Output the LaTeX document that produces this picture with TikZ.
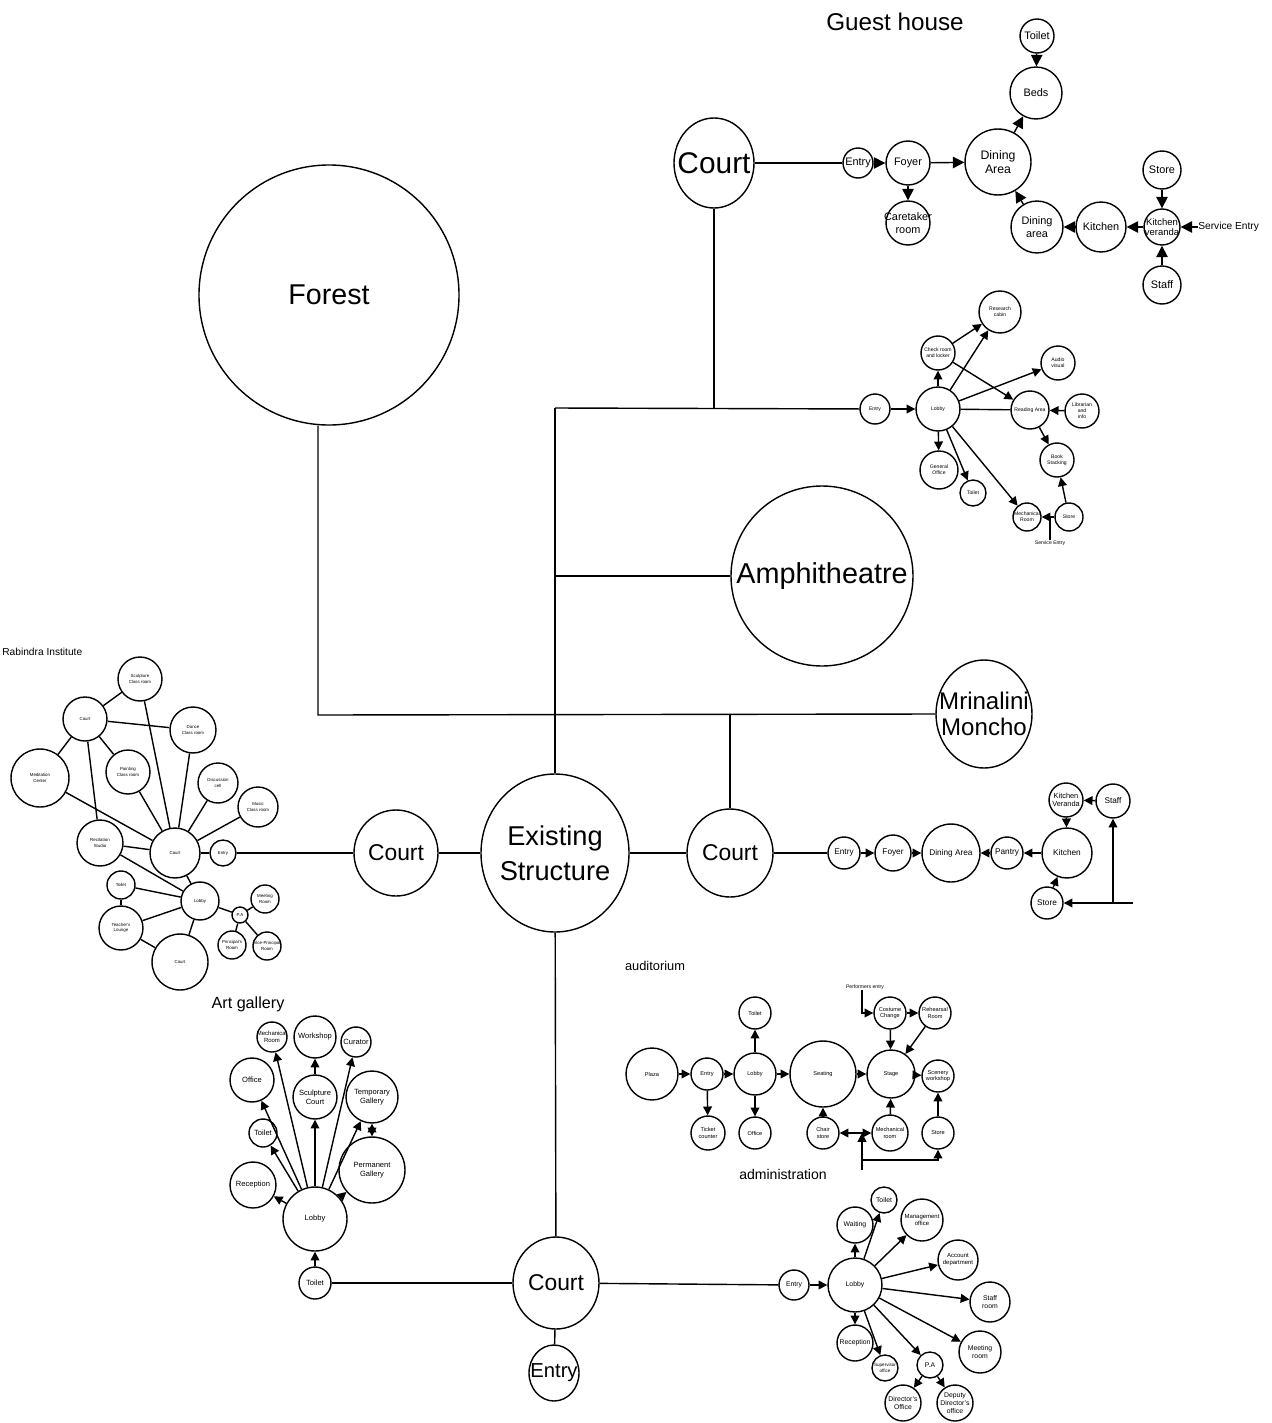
\documentclass[tikz,border=0pt]{standalone}
\usepackage{fontspec}
\setmainfont{Liberation Sans}
\usetikzlibrary{arrows.meta,shapes.geometric}

\begin{document}
\begin{tikzpicture}[x=0.02cm,y=-0.02cm,
  every node/.style={align=center,inner sep=0pt},
  % the outline keeps its given size even where the text runs past it
  rad/.style={ellipse,draw,line width=0.8pt,inner sep=-60pt,minimum width=#1*0.04cm,minimum height=#1*0.04cm},
  ell/.style 2 args={ellipse,draw,line width=0.8pt,inner sep=-60pt,minimum width=#1*0.02cm,minimum height=#2*0.02cm},
  link/.style={line width=0.8pt},
  arr/.style={line width=0.8pt,-{Triangle[length=5pt,width=5pt]}},
  barr/.style={line width=0.8pt,-{Triangle[length=6.5pt,width=6.5pt]}},
  darr/.style={line width=0.8pt,{Triangle[length=5pt,width=5pt]}-{Triangle[length=5pt,width=5pt]}},
  gf/.style={font=\fontsize{6.2}{7}\selectfont},
  lf/.style={font=\fontsize{2.9}{3.4}\selectfont},
  rf/.style={font=\fontsize{2.5}{3}\selectfont},
  af/.style={font=\fontsize{4.3}{5}\selectfont},
  uf/.style={font=\fontsize{3.2}{3.8}\selectfont},
  df/.style={font=\fontsize{3.9}{4.5}\selectfont},
  kf/.style={font=\fontsize{4.7}{5.4}\selectfont}
]
\useasboundingbox (0,0) rectangle (1271,1423);
\fill[white] (0,0) rectangle (1271,1423);

% ---------- main site elements ----------
\node[ell={260}{260},font=\fontsize{16.3}{18}\selectfont] (forest) at (329,295) {Forest};
\node[ell={80}{90},font=\fontsize{17}{19}\selectfont] (courtT) at (714,163) {Court};
\node[ell={182}{180},font=\fontsize{16.4}{18}\selectfont] (amph) at (822,576) {Amphitheatre};
\node[ell={96}{108},font=\fontsize{13.7}{14.7}\selectfont] (mrin) at (984,714) {Mrinalini\\Moncho};
\node[ell={148}{158},font=\fontsize{15.5}{20}\selectfont] (exist) at (555,853) {Existing\\Structure};
\node[ell={84}{86},font=\fontsize{13}{14}\selectfont] (courtL) at (396,853) {Court};
\node[ell={86}{88},font=\fontsize{13}{14}\selectfont] (courtR) at (730,853) {Court};
\node[ell={86}{92},font=\fontsize{13}{14}\selectfont] (courtB) at (556,1283) {Court};
\node[ell={50}{56},font=\fontsize{11.5}{12}\selectfont] (entryB) at (554,1373) {Entry};

\coordinate (jTop) at (555,408);
\coordinate (fm) at (318,715);
\draw[link] (exist.north) -- (jTop);
\draw[link] (courtT.south) -- (courtT.south |- jTop);
\draw[link] (amph.west) -- (amph.west -| exist.north);
\draw[link] (forest.south -| fm) -- (fm) -- (mrin.west);
\draw[link] (courtR.north) -- (courtR.north |- fm);
\draw[link] (courtL) -- (exist);
\draw[link] (exist) -- (courtR);
\draw[link] (exist) -- (courtB);
\draw[link] (courtB) -- (entryB);

% ---------- guest house ----------
\node[font=\fontsize{13.8}{15}\selectfont] (ghTitle) at (895,22) {Guest house};
\node[rad=15,gf] (gEntry) at (858,163) {Entry};
\node[rad=22,gf] (gFoyer) at (908,163) {Foyer};
\node[rad=22,gf] (gCare) at (908,223) {Caretaker\\room};
\node[rad=33,font=\fontsize{7}{8}\selectfont] (gDinA) at (998,162) {Dining\\Area};
\node[rad=26,gf] (gBeds) at (1036,93) {Beds};
\node[rad=17,gf] (gToilet) at (1037,36) {Toilet};
\node[rad=26,gf] (gDina) at (1037,227) {Dining\\area};
\node[rad=25,gf] (gKit) at (1101,227) {Kitchen};
\node[rad=18,font=\fontsize{5.4}{6}\selectfont] (gVer) at (1162,227) {Kitchen\\veranda};
\node[rad=19,gf] (gStore) at (1162,170) {Store};
\node[rad=19,gf] (gStaff) at (1162,285) {Staff};
\node[font=\fontsize{5.8}{6.5}\selectfont,anchor=west] (gServ) at (1198,227) {Service Entry};

\draw[link] (courtT) -- (gEntry);
\draw[barr] (gEntry) -- (gFoyer);
\draw[barr] (gFoyer) -- (gDinA);
\draw[barr] (gFoyer) -- (gCare);
\draw[barr] (gDinA) -- (gBeds);
\draw[barr] (gToilet) -- (gBeds);
\draw[barr] (gDina) -- (gDinA);
\draw[barr] (gKit) -- (gDina);
\draw[barr] (gVer) -- (gKit);
\draw[barr] (gStore) -- (gVer);
\draw[barr] (gStaff) -- (gVer);
\draw[barr] (gServ) -- (gVer);

% ---------- library ----------
\node[rad=15,lf] (lEntry) at (875,409) {Entry};
\node[rad=22,lf] (lLobby) at (938,409) {Lobby};
\node[rad=17,lf] (lCheck) at (938,353) {Check room\\and locker};
\node[rad=21,lf] (lRes) at (1000,312) {Research\\cabin};
\node[rad=17,lf] (lAv) at (1058,363) {Audio\\visual};
\node[rad=19,lf] (lRead) at (1030,410) {Reading Area};
\node[rad=17,lf] (lLib) at (1082,411) {Librarian\\and\\info};
\node[rad=17,lf] (lBook) at (1057,460) {Book\\Stacking};
\node[rad=19,lf] (lGen) at (939,470) {General\\Office};
\node[rad=13,lf] (lToilet) at (973,493) {Toilet};
\node[rad=14,lf] (lMech) at (1027,517) {Mechanical\\Room};
\node[rad=14,lf] (lStore) at (1069,517) {Store};
\node[lf] (lServ) at (1050,543) {Service Entry};
\coordinate (lSj) at (1050,517);

\draw[link] (jTop) -- (lEntry);
\draw[arr] (lEntry) -- (lLobby);
\draw[arr] (lLobby) -- (lCheck);
\draw[arr] (lCheck) -- (lRes);
\draw[arr] (lLobby) -- (lRes);
\draw[arr] (lCheck) -- (lRead);
\draw[arr] (lLobby) -- (lAv);
\draw[link] (lLobby) -- (lRead);
\draw[arr] (lLib) -- (lRead);
\draw[arr] (lRead) -- (lBook);
\draw[arr] (lStore) -- (lBook);
\draw[arr] (lLobby) -- (lGen);
\draw[arr] (lLobby) -- (lToilet);
\draw[arr] (lLobby) -- (lMech);
\draw[arr] (lStore) -- (lMech);
\draw[link] (lServ.north) -- (lSj);

% ---------- Rabindra Institute ----------
\node[font=\fontsize{5.8}{6.3}\selectfont,anchor=west] (rTitle) at (2,652) {Rabindra Institute};
\node[rad=22,rf] (rCourtA) at (85,719) {Court};
\node[rad=22,rf] (rSculp) at (140,679) {Sculpture\\Class room};
\node[rad=23,rf] (rDance) at (193,730) {Dance\\Class room};
\node[rad=29,rf] (rMed) at (40,778) {Meditation\\Center};
\node[rad=22,rf] (rPaint) at (128,772) {Painting\\Class room};
\node[rad=20,rf] (rDisc) at (218,783) {Discussion\\cell};
\node[rad=20,rf] (rMusic) at (258,807) {Music\\Class room};
\node[rad=25,rf] (rCourtB) at (175,853) {Court};
\node[rad=13,rf] (rEntry) at (223,853) {Entry};
\node[rad=23,rf] (rRec) at (100,843) {Recitation\\Studio};
\node[rad=14,rf] (rToilet) at (121,885) {Toilet};
\node[rad=19,rf] (rLobby) at (200,901) {Lobby};
\node[rad=22,rf] (rTeach) at (121,928) {Teacher's\\Lounge};
\node[rad=28,rf] (rCourtC) at (180,962) {Court};
\node[rad=8,rf] (rPA) at (240,915) {P.A};
\node[rad=14,rf] (rMeet) at (265,899) {Meeting\\Room};
\node[rad=14,rf] (rPrin) at (232,945) {Principal's\\Room};
\node[rad=14,rf] (rVice) at (267,946) {Vice-Principal\\Room};

\draw[link] (rEntry) -- (courtL);
\draw[link] (rCourtA) -- (rSculp);
\draw[link] (rCourtA) -- (rDance);
\draw[link] (rCourtA) -- (rMed);
\draw[link] (rCourtA) -- (rPaint);
\draw[link] (rCourtA) -- (rRec);
\draw[link] (rMed) -- (rCourtB);
\draw[link] (rSculp) -- (rCourtB);
\draw[link] (rDance) -- (rCourtB);
\draw[link] (rPaint) -- (rCourtB);
\draw[link] (rDisc) -- (rCourtB);
\draw[link] (rMusic) -- (rCourtB);
\draw[link] (rRec) -- (rCourtB);
\draw[link] (rCourtB) -- (rEntry);
\draw[link] (rRec) -- (rLobby);
\draw[link] (rCourtB) -- (rLobby);
\draw[link] (rToilet) -- (rLobby);
\draw[link] (rToilet) -- (rTeach);
\draw[link] (rTeach) -- (rLobby);
\draw[link] (rTeach) -- (rCourtC);
\draw[link] (rLobby) -- (rCourtC);
\draw[link] (rLobby) -- (rPA);
\draw[link] (rPA) -- (rMeet);
\draw[link] (rPA) -- (rPrin);
\draw[link] (rPA) -- (rVice);

% ---------- right kitchen block ----------
\node[rad=16,kf] (kEntry) at (844,853) {Entry};
\node[rad=18,kf] (kFoyer) at (893,853) {Foyer};
\node[rad=29,kf] (kDin) at (951,853) {Dining Area};
\node[rad=16,kf] (kPan) at (1007,853) {Pantry};
\node[rad=25,kf] (kKit) at (1067,853) {Kitchen};
\node[rad=17,font=\fontsize{4.2}{4.8}\selectfont] (kVer) at (1066,800) {Kitchen\\Veranda};
\node[rad=17,kf] (kStaff) at (1113,801) {Staff};
\node[rad=16,kf] (kStore) at (1047,903) {Store};
\coordinate (kR) at (1133,903);
\coordinate (kJ) at (1113,903);

\draw[link] (courtR) -- (kEntry);
\draw[arr] (kEntry) -- (kFoyer);
\draw[arr] (kFoyer) -- (kDin);
\draw[arr] (kPan) -- (kDin);
\draw[arr] (kKit) -- (kPan);
\draw[arr] (kVer) -- (kKit);
\draw[arr] (kStaff) -- (kVer);
\draw[arr] (kStore) -- (kKit);
\draw[arr] (kR) -- (kStore);
\draw[arr] (kJ) -- (kStaff);

% ---------- auditorium ----------
\node[font=\fontsize{7.3}{8}\selectfont] (uTitle) at (655,966) {auditorium};
\node[rad=26,uf] (uPlaza) at (652,1074) {Plaza};
\node[rad=16,uf] (uEntry) at (707,1074) {Entry};
\node[rad=17,uf] (uTicket) at (708,1133) {Ticket\\counter};
\node[rad=21,uf] (uLobby) at (755,1074) {Lobby};
\node[rad=16,uf] (uToilet) at (755,1013) {Toilet};
\node[rad=16,uf] (uOffice) at (755,1133) {Office};
\node[rad=33,uf] (uSeat) at (823,1074) {Seating};
\node[rad=16,uf] (uChair) at (823,1133) {Chair\\store};
\node[rad=24,uf] (uStage) at (891,1074) {Stage};
\node[rad=16,uf] (uCost) at (890,1013) {Costume\\Change};
\node[rad=16,uf] (uReh) at (935,1013) {Rehearsal\\Room};
\node[rad=16,uf] (uScen) at (938,1076) {Scenery\\workshop};
\node[rad=18,uf] (uMech) at (890,1133) {Mechanical\\room};
\node[rad=16,uf] (uStore) at (938,1133) {Store};
\node[font=\fontsize{2.9}{3.4}\selectfont] (uPerf) at (865,987) {Performers entry};
\coordinate (uS0) at (862,1170);
\coordinate (uSj) at (862,1133);
\coordinate (uSb) at (862,1160);

\draw[arr] (uPlaza) -- (uEntry);
\draw[arr] (uEntry) -- (uLobby);
\draw[arr] (uEntry) -- (uTicket);
\draw[arr] (uLobby) -- (uToilet);
\draw[arr] (uLobby) -- (uOffice);
\draw[arr] (uLobby) -- (uSeat);
\draw[arr] (uSeat) -- (uStage);
\draw[arr] (uChair) -- (uSeat);
\draw[arr] (uCost) -- (uStage);
\draw[arr] (uCost) -- (uReh);
\draw[arr] (uReh) -- (uStage);
\draw[arr] (uStage) -- (uScen);
\draw[arr] (uStore) -- (uScen);
\draw[arr] (uMech) -- (uStage);
\draw[arr] (uPerf.south -| 862,0) |- (uCost.west);
\draw[arr] (uS0) -- (uSj);
\draw[arr] (uSj) -- (uChair);
\draw[arr] (uSj) -- (uMech);
\draw[arr] (uSb) -| (uStore.south);

% ---------- art gallery ----------
\node[font=\fontsize{9.2}{10}\selectfont] (aTitle) at (248,1004) {Art gallery};
\node[rad=15,font=\fontsize{3.4}{4}\selectfont] (aMech) at (272,1037) {Mechanical\\Room};
\node[rad=21,af] (aWork) at (315,1037) {Workshop};
\node[rad=15,af] (aCur) at (356,1042) {Curator};
\node[rad=22,af] (aOff) at (252,1080) {Office};
\node[rad=22,af] (aSculp) at (315,1097) {Sculpture\\Court};
\node[rad=26,af] (aTemp) at (372,1097) {Temporary\\Gallery};
\node[rad=14,af] (aToiletU) at (263,1133) {Toilet};
\node[rad=33,af] (aPerm) at (372,1170) {Permanent\\Gallery};
\node[rad=23,af] (aRec) at (253,1185) {Reception};
\node[rad=32,af] (aLobby) at (315,1219) {Lobby};
\node[rad=16,af] (aToiletL) at (315,1283) {Toilet};

\draw[link] (aToiletL) -- (courtB);
\draw[arr] (aToiletL) -- (aLobby);
\draw[arr] (aLobby) -- (aRec);
\draw[arr] (aLobby) -- (aToiletU);
\draw[arr] (aLobby) -- (aOff);
\draw[arr] (aLobby) -- (aMech);
\draw[arr] (aLobby) -- (aSculp);
\draw[arr] (aSculp) -- (aWork);
\draw[arr] (aLobby) -- (aCur);
\draw[arr] (aLobby) -- (aTemp);
\draw[arr] (aLobby) -- (aPerm);
\draw[darr] (aTemp) -- (aPerm);

% ---------- administration ----------
\node[font=\fontsize{8}{9}\selectfont] (dTitle) at (783,1174) {administration};
\node[rad=15,df] (dEntry) at (794,1285) {Entry};
\node[rad=27,df] (dLobby) at (855,1285) {Lobby};
\node[rad=18,df] (dWait) at (855,1225) {Waiting};
\node[rad=13,df] (dToilet) at (884,1200) {Toilet};
\node[rad=21,font=\fontsize{3.4}{4}\selectfont] (dMan) at (922,1220) {Management\\office};
\node[rad=20,font=\fontsize{3.4}{4}\selectfont] (dAcc) at (958,1260) {Account\\department};
\node[rad=20,df] (dStaff) at (990,1302) {Staff\\room};
\node[rad=21,df] (dMeet) at (980,1352) {Meeting\\room};
\node[rad=18,df] (dRec) at (855,1343) {Reception};
\node[rad=13,font=\fontsize{2.6}{3.2}\selectfont] (dSup) at (885,1368) {Supervisor\\office};
\node[rad=13,df] (dPA) at (930,1365) {P.A};
\node[rad=18,df] (dDir) at (903,1403) {Director's\\Office};
\node[rad=18,df] (dDep) at (955,1403) {Deputy\\Director's\\office};

\draw[link] (courtB) -- (dEntry);
\draw[arr] (dEntry) -- (dLobby);
\draw[arr] (dLobby) -- (dWait);
\draw[arr] (dLobby) -- (dToilet);
\draw[arr] (dLobby) -- (dMan);
\draw[arr] (dLobby) -- (dAcc);
\draw[arr] (dLobby) -- (dStaff);
\draw[arr] (dLobby) -- (dMeet);
\draw[arr] (dLobby) -- (dRec);
\draw[arr] (dLobby) -- (dSup);
\draw[arr] (dLobby) -- (dPA);
\draw[arr] (dPA) -- (dDir);
\draw[arr] (dPA) -- (dDep);
\end{tikzpicture}
\end{document}
